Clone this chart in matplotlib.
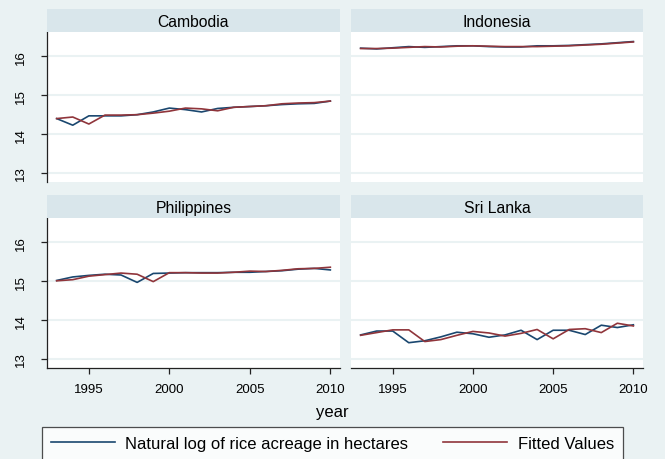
import numpy as np
import matplotlib
matplotlib.use("Agg")
import matplotlib.pyplot as plt

plt.rcParams['font.family'] = ['Liberation Sans', 'DejaVu Sans']

years = list(range(1993, 2011))
countries = ['Cambodia', 'Indonesia', 'Philippines', 'Sri Lanka']

# natural log of rice acreage (observed)
actual = {
    'Cambodia': [14.40, 14.23, 14.47, 14.47, 14.47, 14.50, 14.57, 14.67, 14.63,
                 14.57, 14.66, 14.69, 14.71, 14.73, 14.76, 14.78, 14.79, 14.85],
    'Indonesia': [16.21, 16.19, 16.22, 16.25, 16.23, 16.25, 16.27, 16.27, 16.25,
                  16.24, 16.24, 16.27, 16.27, 16.28, 16.30, 16.32, 16.35, 16.38],
    'Philippines': [15.02, 15.11, 15.15, 15.18, 15.16, 14.97, 15.20, 15.21, 15.22,
                    15.22, 15.22, 15.23, 15.23, 15.25, 15.27, 15.31, 15.33, 15.29],
    'Sri Lanka': [13.62, 13.72, 13.72, 13.42, 13.47, 13.57, 13.69, 13.65, 13.56,
                  13.62, 13.74, 13.50, 13.74, 13.74, 13.63, 13.87, 13.81, 13.88],
}
# fitted values
fitted = {
    'Cambodia': [14.40, 14.44, 14.26, 14.49, 14.49, 14.50, 14.54, 14.59, 14.67,
                 14.65, 14.60, 14.69, 14.71, 14.73, 14.78, 14.80, 14.81, 14.85],
    'Indonesia': [16.20, 16.20, 16.21, 16.23, 16.25, 16.24, 16.26, 16.27, 16.26,
                  16.25, 16.25, 16.25, 16.26, 16.27, 16.29, 16.31, 16.34, 16.37],
    'Philippines': [15.01, 15.04, 15.13, 15.17, 15.21, 15.18, 14.99, 15.22, 15.22,
                    15.21, 15.21, 15.23, 15.26, 15.25, 15.28, 15.32, 15.33, 15.36],
    'Sri Lanka': [13.61, 13.68, 13.75, 13.75, 13.45, 13.50, 13.61, 13.71, 13.67,
                  13.59, 13.66, 13.76, 13.52, 13.76, 13.78, 13.68, 13.92, 13.85],
}
yticks = [13, 14, 15, 16]
xticks = [1995, 2000, 2005, 2010]

bg = '#EAF2F3'
strip_col = '#D9E6EB'
grid_col = '#EAF2F3'
c_act = '#1A476F'
c_fit = '#90353B'

W, H = 665, 460
fig = plt.figure(figsize=(W / 100, H / 100), dpi=100, facecolor=bg)

# panel geometry in pixels: (left, right, plot_top, plot_bottom, strip_top)
panels = [
    (47, 340, 33, 183, 10),
    (351, 643, 33, 183, 10),
    (47, 340, 219, 369, 196),
    (351, 643, 219, 369, 196),
]

for i, (name, (l, r, t, b, st)) in enumerate(zip(countries, panels)):
    ax = fig.add_axes([l / W, 1 - b / H, (r - l) / W, (b - t) / H])
    ax.set_facecolor('white')
    ax.plot(years, actual[name], color=c_act, lw=1.2, zorder=3)
    ax.plot(years, fitted[name], color=c_fit, lw=1.2, zorder=3)
    ax.set_xlim(1992.4, 2010.6)
    ax.set_ylim(12.77, 16.625)
    ax.set_yticks(yticks)
    ax.set_xticks(xticks)
    ax.grid(axis='y', color=grid_col, lw=1.5)
    ax.set_axisbelow(True)
    for s in ax.spines.values():
        s.set_visible(False)
    left_col = i % 2 == 0
    bottom_row = i >= 2
    if left_col:
        ax.spines['left'].set_visible(True)
        ax.spines['left'].set_color('#222222')
        ax.spines['left'].set_linewidth(0.9)
        ax.tick_params(axis='y', length=4.5, width=0.9, color='#222222',
                       labelsize=9.5, pad=10)
        for lab in ax.get_yticklabels():
            lab.set_rotation(90)
            lab.set_va('center')
    else:
        ax.tick_params(axis='y', left=False, labelleft=False)
    if bottom_row:
        ax.spines['bottom'].set_visible(True)
        ax.spines['bottom'].set_color('#222222')
        ax.spines['bottom'].set_linewidth(0.9)
        ax.tick_params(axis='x', length=4.5, width=0.9, color='#222222',
                       labelsize=9.5, pad=6)
    else:
        ax.tick_params(axis='x', bottom=False, labelbottom=False)

    sax = fig.add_axes([l / W, 1 - t / H, (r - l) / W, (t - st) / H])
    sax.set_facecolor(strip_col)
    sax.set_xticks([])
    sax.set_yticks([])
    for s in sax.spines.values():
        s.set_visible(False)
    sax.text(0.5, 0.45, name, ha='center', va='center', fontsize=11.3,
             transform=sax.transAxes)

fig.text(0.5, 1 - 412 / H, 'year', ha='center', va='center', fontsize=12)

h1, = plt.plot([], [], color=c_act, lw=1.2)
h2, = plt.plot([], [], color=c_fit, lw=1.2)
# legend box runs off the bottom edge, as in the original export
leg = fig.legend([h1, h2], ['Natural log of rice acreage in hectares', 'Fitted Values'],
                 ncol=2, loc='upper left', mode='expand',
                 bbox_to_anchor=(42 / W, 1 - 438 / H, 581 / W, 10 / H),
                 fontsize=12, handlelength=3.8, handletextpad=0.65,
                 frameon=True, fancybox=False, borderpad=0.55, borderaxespad=0)
leg.get_frame().set_edgecolor('#222222')
leg.get_frame().set_linewidth(0.9)
leg.get_frame().set_facecolor('white')

fig.savefig('out.png', dpi=100, facecolor=bg)
